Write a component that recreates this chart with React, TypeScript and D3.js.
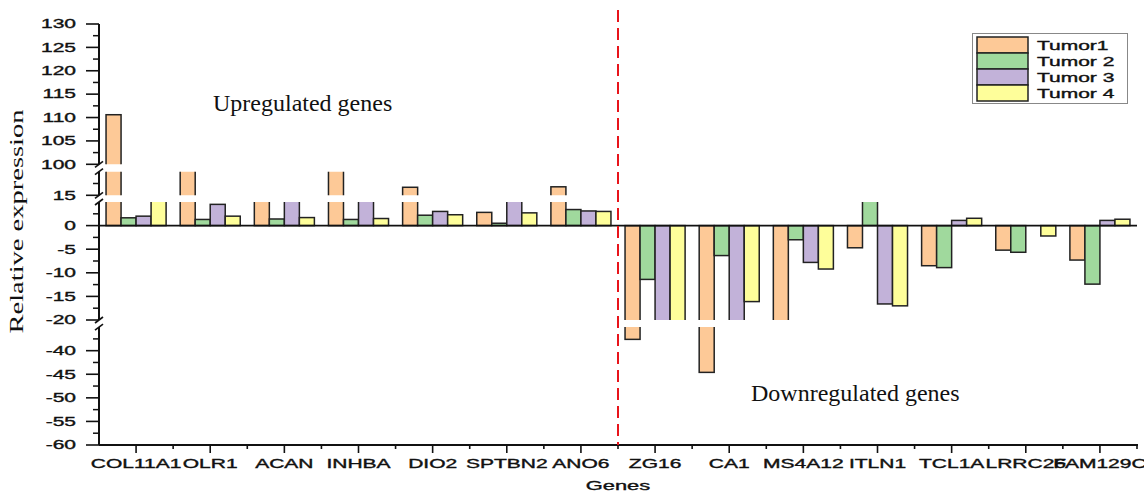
import * as d3 from 'd3';

const genes = ['COL11A1', 'OLR1', 'ACAN', 'INHBA', 'DIO2', 'SPTBN2', 'ANO6', 'ZG16', 'CA1', 'MS4A12', 'ITLN1', 'TCL1A', 'LRRC26', 'FAM129C'];
const seriesNames = ['Tumor1', 'Tumor 2', 'Tumor 3', 'Tumor 4'];
const tumor1 = [110.6, 60, 7, 50, 16.7, 2.8, 16.8, -37.6, -44.6, -30, -4.7, -8.5, -5.2, -7.3];
const tumor2 = [1.65, 1.3, 1.4, 1.3, 2.2, 0.5, 3.4, -11.4, -6.35, -3.0, 8, -8.9, -5.65, -12.4];
const tumor3 = [2.0, 4.5, 8, 8, 3.0, 6, 3.1, -30, -30, -7.8, -16.6, 1.1, 0, 1.1];
const tumor4 = [8, 2.0, 1.7, 1.5, 2.3, 2.7, 3.0, -30, -16.1, -9.2, -17.0, 1.55, -2.2, 1.35];
const colors = ['#fdc997', '#a0d99d', '#c2b2d9', '#fefe9a'];

// broken y axis: each piece has its own domain and pixel range
const pieces = [
  { lo: 100, hi: 130, y0: 164.3, y1: 24, major: [100, 105, 110, 115, 120, 125, 130], minor: [102.5, 107.5, 112.5, 117.5, 122.5, 127.5] },
  { lo: 15, hi: 20, y0: 195.3, y1: 171.7, major: [15], minor: [17.5] },
  { lo: -20, hi: 5, y0: 320, y1: 202, major: [0, -5, -10, -15, -20], minor: [2.5, -2.5, -7.5, -12.5, -17.5] },
  { lo: -60, hi: -35, y0: 445, y1: 327.1, major: [-40, -45, -50, -55, -60], minor: [-37.5, -42.5, -47.5, -52.5, -57.5] },
];

const SANS = '"Liberation Sans", Arial, sans-serif';
const SERIF = '"Liberation Serif", "Times New Roman", serif';
const SX = 1.75;
// stretched sans labels are a little heavier in the original
const sansStyle = { fontFamily: SANS, fontSize: 12, fill: '#111', stroke: '#111', strokeWidth: 0.35 };

export default function App() {
  const left = 99;
  const right = 1137;
  const bottom = 445;
  const series = [tumor1, tumor2, tumor3, tumor4];

  const x0 = d3.scaleBand<string>().domain(genes).range([left, right]).paddingInner(0.19).paddingOuter(0.095);
  const x1 = d3.scaleBand<number>().domain([0, 1, 2, 3]).range([0, x0.bandwidth()]);
  const step = x0.step();
  const boundary = (i: number) => left + i * step;

  const scales = pieces.map((p) => d3.scaleLinear().domain([p.lo, p.hi]).range([p.y0, p.y1]));
  const y0 = scales[2](0);

  return (
    <svg width={1144} height={492} style={{ position: 'absolute', left: 0, top: 0, background: '#fff' }}>
      <defs>
        {pieces.map((p, i) => (
          <clipPath id={`seg${i}`} key={i}>
            <rect x={left} y={p.y1} width={right - left} height={p.y0 - p.y1} />
          </clipPath>
        ))}
      </defs>

      {/* bars, drawn per axis piece so the breaks cut them */}
      {pieces.map((p, pi) => (
        <g key={pi} clipPath={`url(#seg${pi})`}>
          {genes.map((g, gi) =>
            series.map((s, si) => {
              const v = s[gi];
              if (v === 0) return null;
              const a = Math.min(0, v);
              const b = Math.max(0, v);
              if (b < p.lo || a > p.hi) return null;
              const y = scales[pi];
              const top = b > p.hi ? p.y1 - 4 : y(b);
              const bot = a < p.lo ? p.y0 + 4 : y(a);
              return (
                <rect
                  key={`${gi}-${si}`}
                  x={x0(g)! + x1(si)!}
                  y={top}
                  width={x1.bandwidth()}
                  height={bot - top}
                  fill={colors[si]}
                  stroke="#222"
                  strokeWidth={1.5}
                />
              );
            })
          )}
        </g>
      ))}

      {/* zero line */}
      <line x1={left} x2={right} y1={y0} y2={y0} stroke="#111" strokeWidth={1.6} />

      {/* y axis pieces */}
      {pieces.map((p, pi) => (
        <g key={pi}>
          <line x1={left} x2={left} y1={p.y1} y2={p.y0} stroke="#111" strokeWidth={2} />
          {p.major.map((t) => (
            <g key={t}>
              <line x1={left - 13} x2={left} y1={scales[pi](t)} y2={scales[pi](t)} stroke="#111" strokeWidth={1.6} />
              <text transform={`translate(76,${scales[pi](t) + 4.3}) scale(${SX},1)`} textAnchor="end" {...sansStyle}>
                {t}
              </text>
            </g>
          ))}
          {p.minor.map((t) => (
            <line key={t} x1={left - 6} x2={left} y1={scales[pi](t)} y2={scales[pi](t)} stroke="#111" strokeWidth={1.5} />
          ))}
        </g>
      ))}
      {/* break marks */}
      {[
        [pieces[0].y0, pieces[1].y1],
        [pieces[1].y0, pieces[2].y1],
        [pieces[2].y0, pieces[3].y1],
      ].map(([a, b], i) => (
        <g key={i} stroke="#111" strokeWidth={1.6}>
          <line x1={left - 4} x2={left + 4} y1={a + 3} y2={a - 3} />
          <line x1={left - 4} x2={left + 4} y1={b + 3} y2={b - 3} />
        </g>
      ))}

      {/* x axis */}
      <line x1={left} x2={right + 1} y1={bottom} y2={bottom} stroke="#111" strokeWidth={2} />
      {genes.map((g, i) => (
        <g key={g}>
          <line x1={x0(g)! + x0.bandwidth() / 2} x2={x0(g)! + x0.bandwidth() / 2} y1={bottom} y2={bottom + 8} stroke="#111" strokeWidth={1.6} />
          <line x1={boundary(i + 1)} x2={boundary(i + 1)} y1={bottom} y2={bottom + 4} stroke="#111" strokeWidth={1.6} />
          <text transform={`translate(${x0(g)! + x0.bandwidth() / 2},468) scale(${SX},1)`} textAnchor="middle" {...sansStyle}>
            {g}
          </text>
        </g>
      ))}
      <text transform={`translate(${(left + right) / 2},490) scale(${SX},1)`} textAnchor="middle" {...sansStyle} fontSize={12.5}>
        Genes
      </text>

      {/* y title */}
      <text transform="translate(23,221.5) rotate(-90) scale(1.5,1)" textAnchor="middle" fontFamily={SERIF} fontSize={19} fill="#111">
        Relative expression
      </text>

      {/* divider */}
      <line x1={boundary(7)} x2={boundary(7)} y1={10} y2={bottom} stroke="#e8141b" strokeWidth={2} strokeDasharray="12,6" />

      <text x={213} y={111} fontFamily={SERIF} fontSize={24} fill="#111">
        Upregulated genes
      </text>
      <text x={751} y={401} fontFamily={SERIF} fontSize={24} fill="#111">
        Downregulated genes
      </text>

      {/* legend */}
      <rect x={972.5} y={33.5} width={155} height={70} fill="#fff" stroke="#888" strokeWidth={1} />
      {seriesNames.map((n, i) => (
        <g key={n}>
          <rect x={977} y={37 + i * 16} width={51} height={16} fill={colors[i]} stroke="#222" strokeWidth={1.5} />
          <text transform={`translate(1037,${49.5 + i * 16}) scale(${SX},1)`} {...sansStyle}>
            {n}
          </text>
        </g>
      ))}
    </svg>
  );
}
